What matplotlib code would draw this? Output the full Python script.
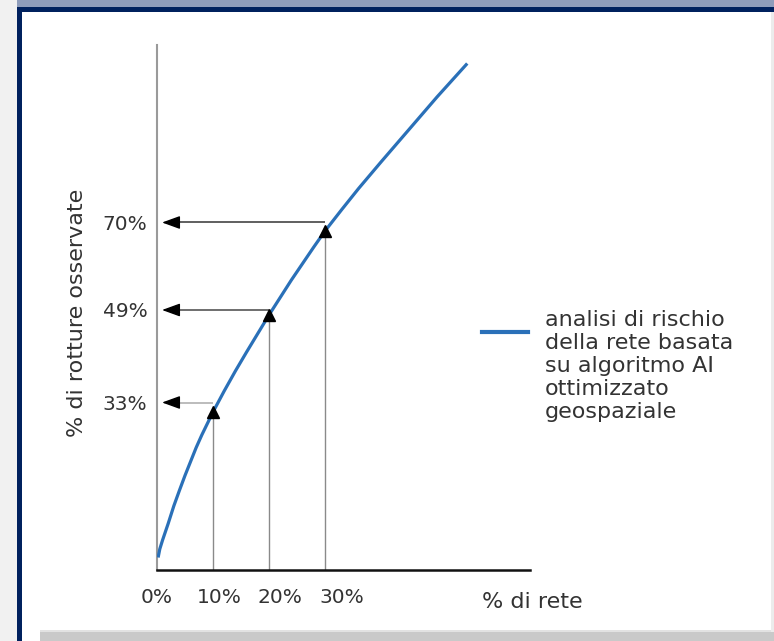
import numpy as np
import matplotlib
matplotlib.use("Agg")
import matplotlib.pyplot as plt
from matplotlib.patches import Rectangle

# curve (% di rete -> % di rotture osservate)
rete = [0.2, 0.5, 1, 2, 3, 4, 5, 6, 7, 8, 9, 10, 12, 14, 16, 18, 20,
        22, 24, 26, 28, 30, 33, 36, 40, 45, 50, 55.4]
rotture = [2.5, 4.2, 6.0, 9.3, 12.8, 15.9, 18.9, 21.7, 24.5, 27.0, 29.3, 31.6,
           35.8, 39.8, 43.6, 47.3, 51.0, 54.5, 58.0, 61.3, 64.6, 67.8, 72.1,
           76.3, 81.6, 88.1, 94.6, 101.3]

# marked points on the curve and the levels of their arrows
punti_x = [10, 20, 30]
livelli = [33.5, 52, 69.5]
livelli_labels = ["33%", "49%", "70%"]
shaft_colors = ["#b0b0b0", "#555555", "#444444"]

xtick_pos = [0, 11.1, 22, 33]
xtick_labels = ["0%", "10%", "20%", "30%"]

series_label = "analisi di rischio\ndella rete basata\nsu algoritmo AI\nottimizzato\ngeospaziale"

W, H = 774, 641
blue = "#2a70b8"
txt = "#333333"

fig = plt.figure(figsize=(W / 100, H / 100), dpi=100, facecolor="#f1f1f1")


def box(x0, y0, x1, y1, color):
    # rectangle given in pixels from the top-left corner
    fig.add_artist(Rectangle((x0 / W, 1 - y1 / H), (x1 - x0) / W, (y1 - y0) / H,
                             transform=fig.transFigure, facecolor=color,
                             edgecolor="none", zorder=-10))


box(17, 0, W, 7, "#8f9dbb")
box(17, 7, W, 12, "#00215e")
box(17, 7, 22, H, "#00215e")
box(22, 12, 771, 641, "#ffffff")
box(40, 632, W, H, "#c9c9c9")
box(40, 630, W, 632, "#e2e2e2")
box(771, 12, W, 632, "#ececec")

ax = fig.add_axes([157 / W, 71 / H, 373 / W, 525 / H])
ax.set_facecolor("none")
ax.set_xlim(0, 373 / 5.6)
ax.set_ylim(0, 105)

for s in ["top", "right"]:
    ax.spines[s].set_visible(False)
ax.spines["left"].set_color("#9a9a9a")
ax.spines["left"].set_linewidth(1.5)
ax.spines["bottom"].set_color("#111111")
ax.spines["bottom"].set_linewidth(1.8)

# curve
ax.plot(rete, rotture, color=blue, lw=2.3, solid_capstyle="butt",
        solid_joinstyle="round", zorder=3)

punti_y = np.interp(punti_x, rete, rotture)
ax.vlines(punti_x, 0, punti_y, color="#8a8a8a", lw=1, zorder=2)
ax.plot(punti_x, punti_y, "^", color="black", markersize=9, zorder=4)

tip = 0.9
head = 15 / 5.6
for px, lv, c in zip(punti_x, livelli, shaft_colors):
    ax.hlines(lv, tip + head, px, color=c, lw=1.2, zorder=2)
    ax.annotate("", xy=(tip, lv), xytext=(tip + head, lv),
                arrowprops=dict(arrowstyle="-|>,head_length=1.1,head_width=0.4",
                                mutation_scale=10, color="black", lw=1,
                                shrinkA=0, shrinkB=0))

ax.set_yticks(livelli, livelli_labels)
ax.set_xticks(xtick_pos, xtick_labels)
ax.tick_params(axis="both", length=0, labelsize=14.5, labelcolor=txt)
ax.tick_params(axis="y", pad=7)
ax.tick_params(axis="x", pad=13)

ax.text(-0.215, 0.49, "% di rotture osservate", transform=ax.transAxes,
        rotation=90, ha="center", va="center", fontsize=16, color=txt)
ax.text(1.005, -0.061, "% di rete", transform=ax.transAxes,
        ha="center", va="center", fontsize=16, color=txt)

# legend
ax.plot([0.871, 0.995], [0.453, 0.453], transform=ax.transAxes, color=blue,
        lw=3, clip_on=False)
ax.text(1.04, 0.495, series_label, transform=ax.transAxes, ha="left", va="top",
        fontsize=16, color=txt, linespacing=1.18)

fig.savefig("out.png", dpi=100, facecolor=fig.get_facecolor())
